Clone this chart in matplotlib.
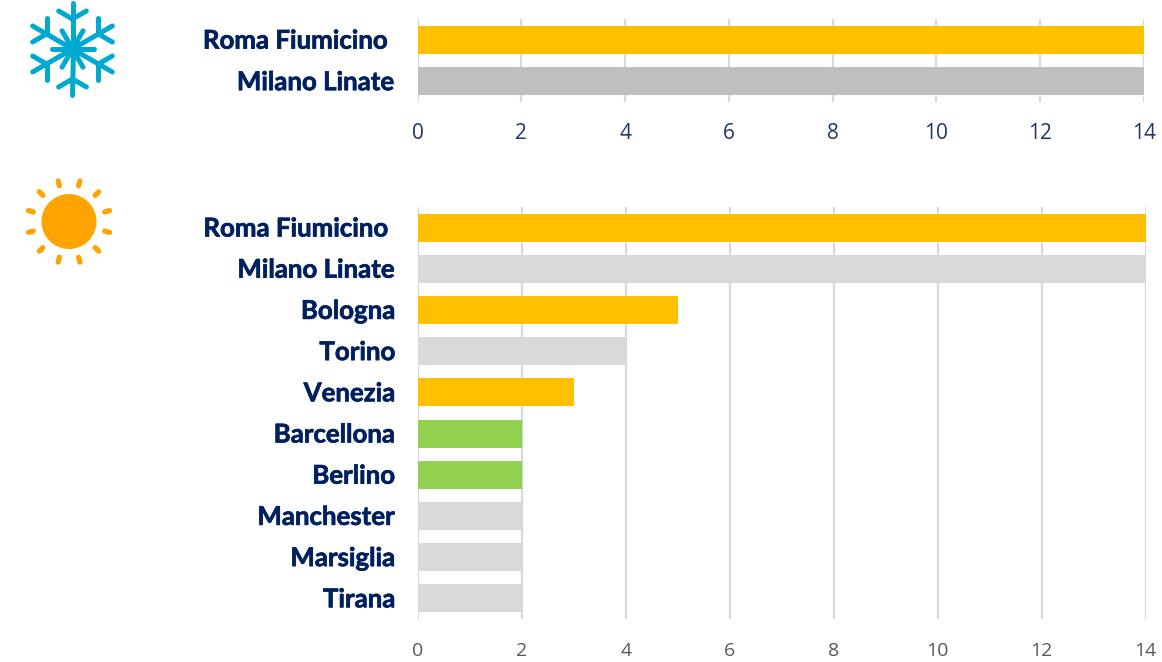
import numpy as np
import matplotlib
matplotlib.use("Agg")
import matplotlib.pyplot as plt
import matplotlib.patheffects as pe
from matplotlib.patches import Circle

W, H = 1162, 662

winter_labels = ["Roma Fiumicino ", "Milano Linate"]
winter_values = [14, 14]
winter_colors = ["#FFC000", "#BFBFBF"]

summer_labels = ["Roma Fiumicino ", "Milano Linate", "Bologna", "Torino", "Venezia",
                 "Barcellona", "Berlino", "Manchester", "Marsiglia", "Tirana"]
summer_values = [14, 14, 5, 4, 3, 2, 2, 2, 2, 2]
summer_colors = ["#FFC000", "#D9D9D9", "#FFC000", "#D9D9D9", "#FFC000",
                 "#92D050", "#92D050", "#D9D9D9", "#D9D9D9", "#D9D9D9"]

x_ticks = [0, 2, 4, 6, 8, 10, 12, 14]

NAVY = "#002060"


def make_axes(fig, left, right, top, bottom):
    return fig.add_axes([left / W, 1 - bottom / H, (right - left) / W, (bottom - top) / H])


def draw_bars(ax, labels, values, colors, tick_color, tick_size, tick_pad):
    y = np.arange(len(labels))
    ax.barh(y, values, height=0.68, color=colors, zorder=3)
    ax.set_xlim(0, 14)
    ax.set_ylim(len(labels) - 0.5, -0.5)
    ax.set_xticks(x_ticks)
    ax.set_yticks(y)
    ax.set_yticklabels([])
    # category names as annotations, tick labels can't be nudged up
    for yi, label in zip(y, labels):
        ax.annotate(label, xy=(0, yi), xycoords=("axes fraction", "data"),
                    xytext=(-16, 0.8), textcoords="offset points",
                    ha="right", va="center_baseline", family="Lato", weight="bold",
                    fontsize=18.6, color=NAVY,
                    path_effects=[pe.withStroke(linewidth=0.5, foreground=NAVY)])
    ax.tick_params(axis="y", length=0)
    ax.tick_params(axis="x", length=0, pad=tick_pad, labelcolor=tick_color, labelsize=tick_size)
    for t in ax.get_xticklabels():
        t.set_family("Open Sans")
    ax.grid(axis="x", color="#D9D9D9", linewidth=1.6, zorder=1)
    for s in ax.spines.values():
        s.set_visible(False)


def draw_snowflake(ax, cx, cy):
    c = "#00A9D0"
    for deg in np.arange(0, 360, 60):
        a = np.radians(deg + 90)
        d = np.array([np.cos(a), -np.sin(a)])
        ax.plot([cx, cx + 46 * d[0]], [cy, cy + 46 * d[1]], color=c, lw=3.6, solid_capstyle="round")
        # outer fork on each arm
        for da in (-np.pi / 3, np.pi / 3):
            b = np.array([np.cos(a + da), -np.sin(a + da)])
            p = np.array([cx, cy]) + 30 * d
            q = p + 16 * b
            ax.plot([p[0], q[0]], [p[1], q[1]], color=c, lw=3.6, solid_capstyle="round")
        # short spokes between the arms
        a2 = a + np.pi / 6
        ax.plot([cx, cx + 21 * np.cos(a2)], [cy, cy - 21 * np.sin(a2)], color=c, lw=3.6, solid_capstyle="round")


def draw_sun(ax, cx, cy):
    c = "#FFA300"
    ax.add_patch(Circle((cx, cy), 27.5, color=c, lw=0))
    for deg in np.arange(15, 360, 30):
        a = np.radians(deg)
        r0, r1 = 37, 42
        ax.plot([cx + r0 * np.cos(a), cx + r1 * np.cos(a)],
                [cy - r0 * np.sin(a), cy - r1 * np.sin(a)],
                color=c, lw=3.8, solid_capstyle="round")


def main():
    fig = plt.figure(figsize=(W / 100, H / 100), dpi=100, facecolor="white")

    ax1 = make_axes(fig, 417.5, 1144, 19, 102)
    draw_bars(ax1, winter_labels, winter_values, winter_colors, "#1F3864", 15, 15)

    ax2 = make_axes(fig, 418, 1145.5, 207, 619)
    draw_bars(ax2, summer_labels, summer_values, summer_colors, "#595959", 14, 16.5)

    # icons on a full-figure pixel overlay
    over = fig.add_axes([0, 0, 1, 1])
    over.set_xlim(0, W)
    over.set_ylim(H, 0)
    over.axis("off")
    over.patch.set_alpha(0)
    draw_snowflake(over, 72.5, 49)
    draw_sun(over, 69, 221.5)

    fig.savefig("out.png", dpi=100)


if __name__ == '__main__':
    main()
